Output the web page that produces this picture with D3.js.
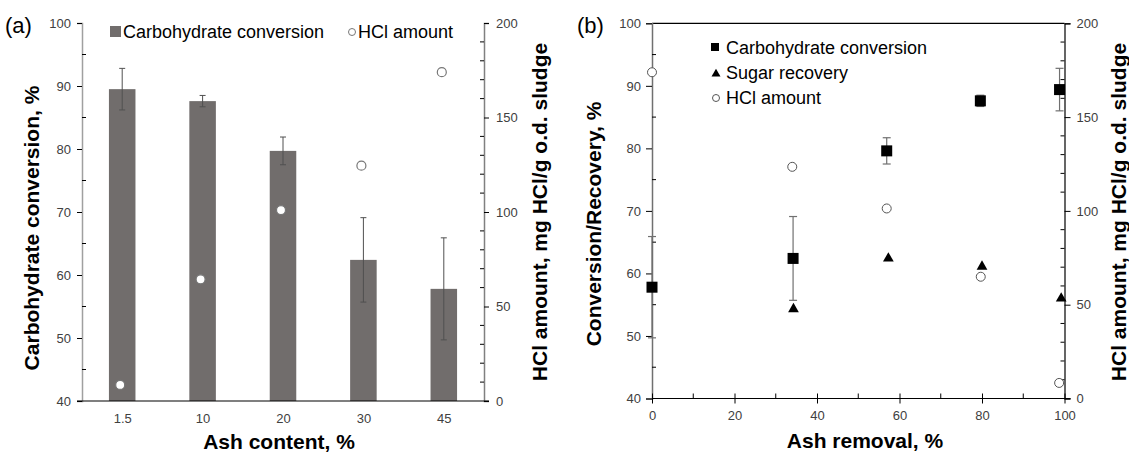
<!DOCTYPE html>
<html><head><meta charset="utf-8">
<script src="https://cdn.jsdelivr.net/npm/d3@7"></script>
<style>
body{margin:0;background:#fff;}
svg{display:block;font-family:"Liberation Sans",Arial,sans-serif;}
</style></head>
<body><svg id="c" width="1129" height="455"></svg>
<script>
// ---- data ----
const ashContent = ["1.5","10","20","30","45"];
const carbConv = [89.5, 87.6, 79.7, 62.4, 57.8];
const carbErr = [3.3, 0.9, 2.2, 6.7, 8.1];
const hclAmount = [8.5, 64.4, 101, 124.5, 174];

const removal = [0, 34.2, 56.9, 79.6, 98.8];
const carbConvB = [57.8, 62.4, 79.6, 87.6, 89.4];
const carbErrB = [8.1, 6.7, 2.1, 0.9, 3.4];
const sugarX = [34.3, 57.3, 80.0, 99.2];
const sugarRec = [54.3, 62.4, 61.1, 56.0];
const hclX = [0, 34.0, 56.9, 79.7, 98.7];
const hclB = [173.9, 123.5, 101.3, 64.9, 8.3];

const yTicksL = [40,50,60,70,80,90,100];
const yTicksR = [0,50,100,150,200];
const xTicksB = [0,20,40,60,80,100];

const svg = d3.select("#c");
const tickFont = 13, tickCol = "#404040", titleFont = 21;

// ================= Panel (a) =================
const aL = 82, aR = 484, aT = 23, aB = 401;
const xA = d3.scalePoint().domain(ashContent).range([aL, aR]).padding(0.5);
const yA = d3.scaleLinear().domain([40,100]).range([aB, aT]);
const yA2 = d3.scaleLinear().domain([0,200]).range([aB, aT]);
const gA = svg.append("g");
const barW = xA.step()*0.33;

// bars
gA.selectAll("rect.bar").data(carbConv).join("rect")
  .attr("x",(d,i)=>xA(ashContent[i])-barW/2).attr("width",barW)
  .attr("y",d=>yA(d)).attr("height",d=>aB-yA(d)).attr("fill","#716d6c");
// error bars
carbConv.forEach((d,i)=>{
  const cx = xA(ashContent[i]);
  const g = gA.append("g").attr("stroke","#505050").attr("stroke-width",1);
  g.append("line").attr("x1",cx).attr("x2",cx).attr("y1",yA(d+carbErr[i])).attr("y2",yA(d-carbErr[i]));
  g.append("line").attr("x1",cx-3).attr("x2",cx+3).attr("y1",yA(d+carbErr[i])).attr("y2",yA(d+carbErr[i]));
  g.append("line").attr("x1",cx-3).attr("x2",cx+3).attr("y1",yA(d-carbErr[i])).attr("y2",yA(d-carbErr[i]));
});
// HCl circles
gA.selectAll("circle.h").data(hclAmount).join("circle")
  .attr("cx",(d,i)=>xA(ashContent[i])-2).attr("cy",d=>yA2(d)).attr("r",4.5)
  .attr("fill","#fff").attr("stroke","#777").attr("stroke-width",1.2);

// left axis
const axL = d3.axisLeft(yA).tickValues(yTicksL).tickSize(5).tickPadding(6);
const gl = gA.append("g").attr("transform",`translate(${aL},0)`).call(axL);
gl.select(".domain").attr("stroke","#a0a0a0").attr("stroke-width",1.5);
gl.selectAll(".tick line").attr("stroke","#000");
gl.selectAll("text").attr("font-size",tickFont).attr("fill",tickCol).attr("font-family","Liberation Sans, Arial");
gl.selectAll(".minor").data(d3.range(45,100,10)).join("line").attr("class","minor")
  .attr("x1",0).attr("x2",4).attr("y1",d=>yA(d)).attr("y2",d=>yA(d)).attr("stroke","#000");
// right axis
const axR = d3.axisRight(yA2).tickValues(yTicksR).tickSize(5).tickPadding(7);
const gr = gA.append("g").attr("transform",`translate(${aR},0)`).call(axR);
gr.select(".domain").attr("stroke","#808080").attr("stroke-width",1.5);
gr.selectAll(".tick line").attr("stroke","#000");
gr.selectAll("text").attr("font-size",tickFont).attr("fill",tickCol).attr("font-family","Liberation Sans, Arial");
gr.selectAll(".minor").data(d3.range(10,200,10).filter(v=>v%50)).join("line").attr("class","minor")
  .attr("x1",0).attr("x2",-4).attr("y1",d=>yA2(d)).attr("y2",d=>yA2(d)).attr("stroke","#000");
// bottom axis
const axB = d3.axisBottom(xA).tickSize(0).tickPadding(13);
const gb = gA.append("g").attr("transform",`translate(0,${aB})`).call(axB);
gb.select(".domain").attr("d",`M${aL-5},0H${aR+5}`).attr("stroke","#000").attr("stroke-width",1.2);
gb.selectAll("text").attr("font-size",tickFont).attr("fill",tickCol).attr("font-family","Liberation Sans, Arial");

// titles
gA.append("text").attr("x",279).attr("y",449).attr("text-anchor","middle")
  .attr("font-size",titleFont).attr("font-weight","bold").text("Ash content, %");
gA.append("text").attr("transform","translate(39,228) rotate(-90)").attr("text-anchor","middle")
  .attr("font-size",titleFont).attr("font-weight","bold").text("Carbohydrate conversion, %");
gA.append("text").attr("transform","translate(547,212) rotate(-90)").attr("text-anchor","middle")
  .attr("font-size",titleFont).attr("font-weight","bold").text("HCl amount, mg HCl/g o.d. sludge");
gA.append("text").attr("x",5).attr("y",33).attr("font-size",22).text("(a)");
// legend
gA.append("rect").attr("x",110).attr("y",26).attr("width",11).attr("height",11).attr("fill","#716d6c");
gA.append("text").attr("x",123).attr("y",38).attr("font-size",18).text("Carbohydrate conversion");
gA.append("circle").attr("cx",352).attr("cy",32).attr("r",3.5).attr("fill","#fff").attr("stroke","#777");
gA.append("text").attr("x",358).attr("y",38).attr("font-size",18).text("HCl amount");

// ================= Panel (b) =================
const bL = 652, bR = 1064.5, bT = 23.3, bB = 398.5;
const xB = d3.scaleLinear().domain([0,100]).range([bL,bR]);
const yB = d3.scaleLinear().domain([40,100]).range([bB,bT]);
const yB2 = d3.scaleLinear().domain([0,200]).range([bB,bT]);
const gB = svg.append("g");

// top border
gB.append("line").attr("x1",bL).attr("x2",bR).attr("y1",bT).attr("y2",bT).attr("stroke","#000").attr("stroke-width",1.2);

// left axis
const bl = gB.append("g").attr("transform",`translate(${bL},0)`)
  .call(d3.axisLeft(yB).tickValues(yTicksL).tickSize(6).tickPadding(5));
bl.select(".domain").attr("stroke","#707070").attr("stroke-width",1.5);
bl.selectAll("text").attr("font-size",tickFont).attr("fill",tickCol).attr("font-family","Liberation Sans, Arial");
bl.selectAll(".minor").data(d3.range(45,100,10)).join("line").attr("class","minor")
  .attr("x1",0).attr("x2",4).attr("y1",d=>yB(d)).attr("y2",d=>yB(d)).attr("stroke","#000");
// right axis
const br = gB.append("g").attr("transform",`translate(${bR},0)`)
  .call(d3.axisRight(yB2).tickValues(yTicksR).tickSize(6).tickPadding(6));
br.select(".domain").attr("stroke","#000").attr("stroke-width",1.2);
br.selectAll("text").attr("font-size",tickFont).attr("fill",tickCol).attr("font-family","Liberation Sans, Arial");
br.selectAll(".minor").data(d3.range(10,200,10).filter(v=>v%50)).join("line").attr("class","minor")
  .attr("x1",0).attr("x2",-4).attr("y1",d=>yB2(d)).attr("y2",d=>yB2(d)).attr("stroke","#000");
// bottom axis
const bb = gB.append("g").attr("transform",`translate(0,${bB})`)
  .call(d3.axisBottom(xB).tickValues(xTicksB).tickSize(5).tickPadding(7));
bb.select(".domain").attr("d",`M${bL},0H${bR+6}`).attr("stroke","#000").attr("stroke-width",1.2);
bb.selectAll(".tick line").attr("y1",-5);
bb.selectAll("text").attr("font-size",tickFont).attr("fill",tickCol).attr("font-family","Liberation Sans, Arial");
bb.selectAll(".minor").data(d3.range(10,100,20)).join("line").attr("class","minor")
  .attr("x1",d=>xB(d)).attr("x2",d=>xB(d)).attr("y1",0).attr("y2",-5).attr("stroke","#000");

// error bars for squares
carbConvB.forEach((d,i)=>{
  const cx = xB(removal[i]);
  const g = gB.append("g").attr("stroke","#707070").attr("stroke-width",1.2);
  g.append("line").attr("x1",cx).attr("x2",cx).attr("y1",yB(d+carbErrB[i])).attr("y2",yB(d-carbErrB[i]));
  g.append("line").attr("x1",cx-4).attr("x2",cx+4).attr("y1",yB(d+carbErrB[i])).attr("y2",yB(d+carbErrB[i]));
  g.append("line").attr("x1",cx-4).attr("x2",cx+4).attr("y1",yB(d-carbErrB[i])).attr("y2",yB(d-carbErrB[i]));
});
// HCl circles
gB.selectAll("circle.h").data(hclB).join("circle")
  .attr("cx",(d,i)=>xB(hclX[i])).attr("cy",d=>yB2(d)).attr("r",4.5)
  .attr("fill","#fff").attr("stroke","#555").attr("stroke-width",1);
// squares
gB.selectAll("rect.sq").data(carbConvB).join("rect")
  .attr("x",(d,i)=>xB(removal[i])-5.5).attr("y",d=>yB(d)-5.5).attr("width",11).attr("height",11).attr("fill","#000");
// triangles
const tri = d3.symbol().type(d3.symbolTriangle).size(50);
gB.selectAll("path.tr").data(sugarRec).join("path")
  .attr("d",tri).attr("transform",(d,i)=>`translate(${xB(sugarX[i])},${yB(d)})`).attr("fill","#000");

// titles
gB.append("text").attr("x",865).attr("y",448).attr("text-anchor","middle")
  .attr("font-size",titleFont).attr("font-weight","bold").text("Ash removal, %");
gB.append("text").attr("transform","translate(601,224) rotate(-90)").attr("text-anchor","middle")
  .attr("font-size",titleFont).attr("font-weight","bold").text("Conversion/Recovery, %");
gB.append("text").attr("transform","translate(1126,212) rotate(-90)").attr("text-anchor","middle")
  .attr("font-size",titleFont).attr("font-weight","bold").text("HCl amount, mg HCl/g o.d. sludge");
gB.append("text").attr("x",577).attr("y",33).attr("font-size",22).text("(b)");
// legend
gB.append("rect").attr("x",711).attr("y",43).attr("width",8).attr("height",8).attr("fill","#000");
gB.append("text").attr("x",726).attr("y",54).attr("font-size",18).text("Carbohydrate conversion");
gB.append("path").attr("d",d3.symbol().type(d3.symbolTriangle).size(35)).attr("transform","translate(716,74)").attr("fill","#000");
gB.append("text").attr("x",726).attr("y",79).attr("font-size",18).text("Sugar recovery");
gB.append("circle").attr("cx",716).attr("cy",98).attr("r",3.5).attr("fill","#fff").attr("stroke","#555");
gB.append("text").attr("x",726).attr("y",104).attr("font-size",18).text("HCl amount");
</script></body></html>
